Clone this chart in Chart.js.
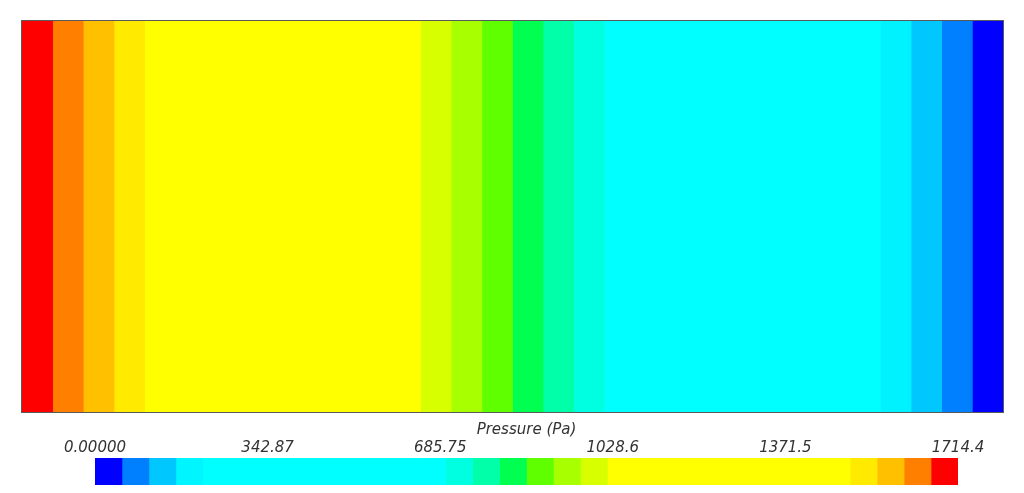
<!DOCTYPE html>
<html>
<head>
<meta charset="utf-8">
<script src="https://cdn.jsdelivr.net/npm/chart.js@4/dist/chart.umd.min.js"></script>
<style>
  html, body { margin: 0; padding: 0; background: #fff; }
  #wrap { position: relative; width: 1024px; height: 493px; overflow: hidden; }
  #field { position: absolute; left: 0; top: 0; }
  #legend { position: absolute; left: 0; top: 415px; }
</style>
</head>
<body>
<div id="wrap">
  <canvas id="field" width="1024" height="420"></canvas>
  <canvas id="legend" width="1024" height="78"></canvas>
</div>
<script>
// contour bands along the length (0..32 units across the plot), left to right
const bandEdges  = [0, 1, 2, 3, 4, 13, 14, 15, 16, 17, 18, 19, 28, 29, 30, 31, 32];
const bandColors = ['#ff0000', '#ff8000', '#ffc000', '#ffea00', '#ffff00', '#d8ff00',
                    '#a8ff00', '#60ff00', '#00ff50', '#00ffa8', '#00ffe0', '#00ffff',
                    '#00f2ff', '#00c8ff', '#0080ff', '#0000ff'];

// colour bar: 32 levels from low (blue) to high (red)
const levelColors = ['#0000ff', '#0080ff', '#00c8ff', '#00f6ff', '#00ffff', '#00ffff',
                     '#00ffff', '#00ffff', '#00ffff', '#00ffff', '#00ffff', '#00ffff',
                     '#00ffff', '#00ffe0', '#00ffa8', '#00ff50', '#60ff00', '#a8ff00',
                     '#d8ff00', '#ffff00', '#ffff00', '#ffff00', '#ffff00', '#ffff00',
                     '#ffff00', '#ffff00', '#ffff00', '#ffff00', '#ffea00', '#ffc000',
                     '#ff8000', '#ff0000'];
const pMin = 0;
const pMax = 1714.4;
const tickValues = [0, 342.87, 685.75, 1028.6, 1371.5, 1714.4];
const tickLabels = ['0.00000', '342.87', '685.75', '1028.6', '1371.5', '1714.4'];

const font = { family: '"DejaVu Sans", sans-serif', style: 'italic', size: 15 };

const frame = {
    id: 'frame',
    afterDraw(chart) {
        const a = chart.chartArea, ctx = chart.ctx;
        ctx.save();
        ctx.strokeStyle = '#5a5a5a';
        ctx.lineWidth = 1;
        ctx.strokeRect(a.left - 0.5, a.top - 0.5, a.right - a.left + 1, a.bottom - a.top + 1);
        ctx.restore();
    }
};

const fieldSets = bandColors.map((c, i) => ({
    data: [bandEdges[i + 1] - bandEdges[i]],
    backgroundColor: c,
    borderWidth: 0,
    barPercentage: 1,
    categoryPercentage: 1
}));

new Chart(document.getElementById('field'), {
    type: 'bar',
    data: { labels: [''], datasets: fieldSets },
    options: {
        indexAxis: 'y',
        responsive: false,
        animation: false,
        devicePixelRatio: 1,
        layout: { padding: { left: 22, right: 21, top: 21, bottom: 8 } },
        plugins: { legend: { display: false }, tooltip: { enabled: false } },
        scales: {
            x: { stacked: true, min: bandEdges[0], max: bandEdges[bandEdges.length - 1], display: false },
            y: { stacked: true, display: false }
        }
    },
    plugins: [frame]
});

const step = (pMax - pMin) / levelColors.length;
const legendSets = levelColors.map(c => ({
    data: [step],
    backgroundColor: c,
    borderWidth: 0,
    barPercentage: 1,
    categoryPercentage: 1
}));

new Chart(document.getElementById('legend'), {
    type: 'bar',
    data: { labels: [''], datasets: legendSets },
    options: {
        indexAxis: 'y',
        responsive: false,
        animation: false,
        devicePixelRatio: 1,
        layout: { padding: { left: 95, right: 66, top: 0, bottom: 8 } },
        plugins: { legend: { display: false }, tooltip: { enabled: false } },
        scales: {
            x: {
                stacked: true,
                position: 'top',
                min: pMin,
                max: pMax,
                afterBuildTicks: s => { s.ticks = tickValues.map(v => ({ value: v })); },
                afterFit: s => { s.height = 43; },
                grid: { display: false, drawTicks: false },
                border: { display: false },
                ticks: {
                    autoSkip: false,
                    maxRotation: 0,
                    padding: 1,
                    color: '#333',
                    font: font,
                    callback: (v, i) => tickLabels[i]
                },
                title: {
                    display: true,
                    text: 'Pressure (Pa)',
                    color: '#333',
                    font: font,
                    padding: { top: 6, bottom: 0 }
                }
            },
            y: { stacked: true, display: false }
        }
    }
});
</script>
</body>
</html>
